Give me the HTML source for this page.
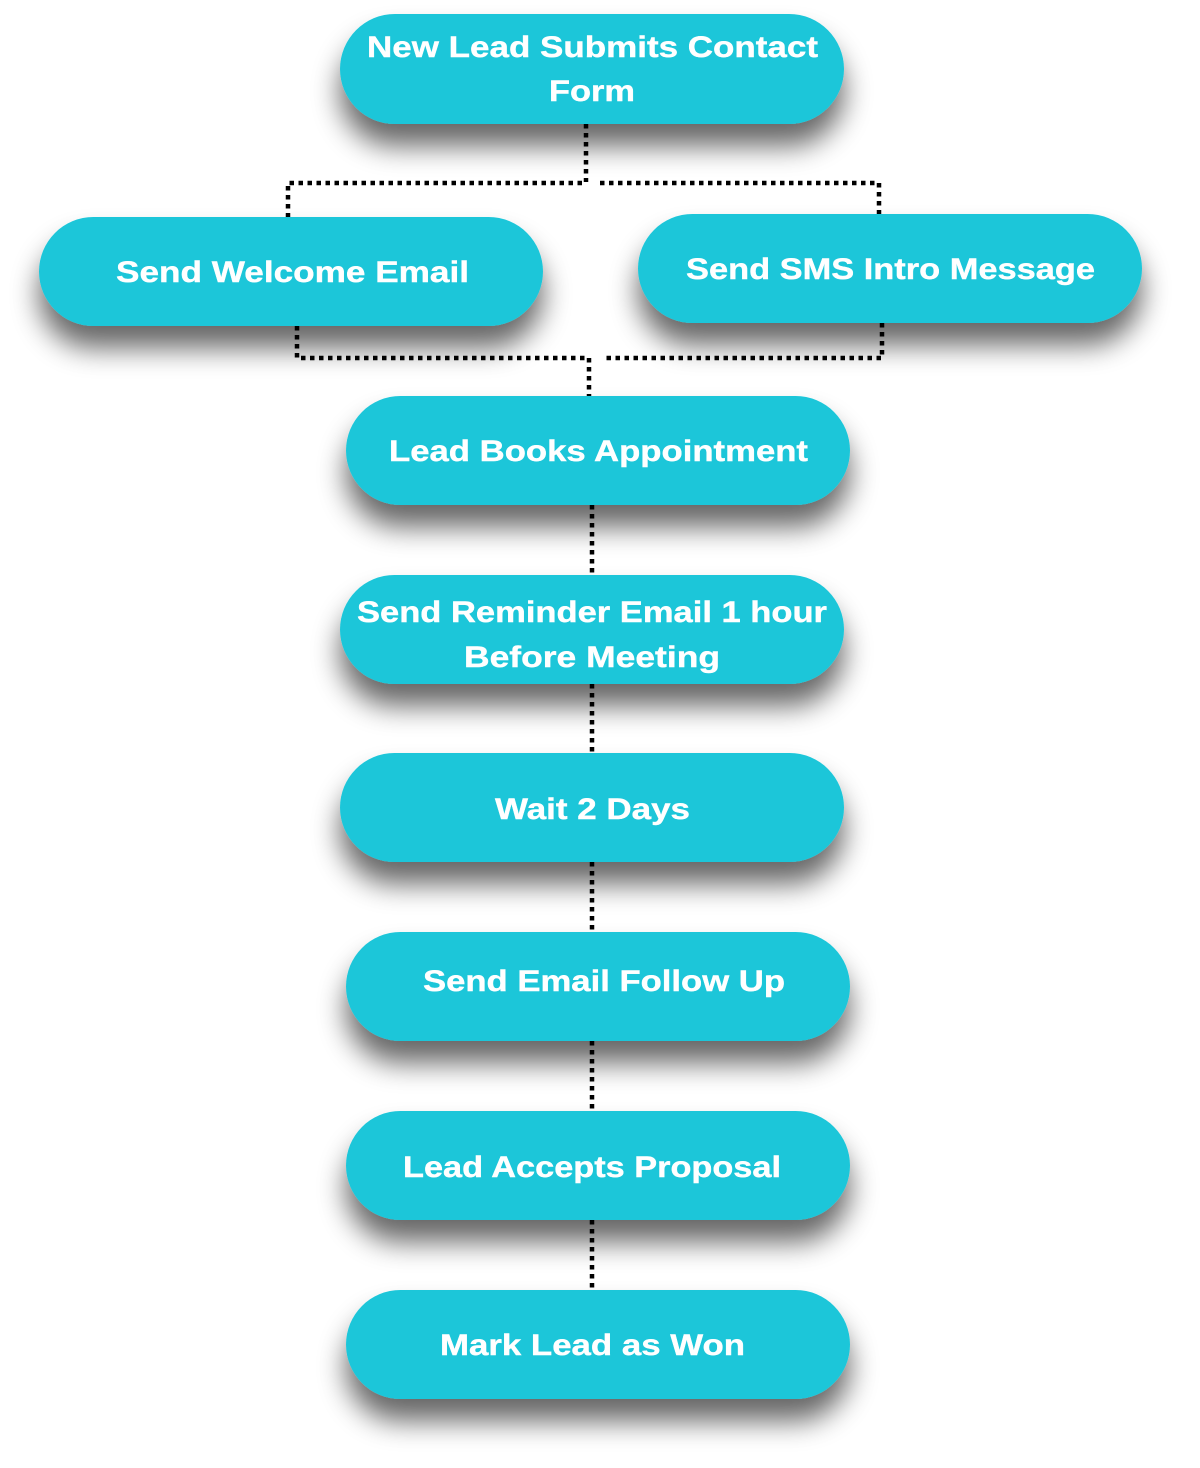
<!DOCTYPE html>
<html><head><meta charset="utf-8"><style>
html,body{margin:0;padding:0;background:#fff;}
svg{display:block;}
text{font-family:"Liberation Sans",sans-serif;font-weight:bold;font-size:30px;fill:#fff;stroke:#fff;stroke-width:0.4px;}
</style></head><body>
<svg width="1200" height="1468" viewBox="0 0 1200 1468" xmlns="http://www.w3.org/2000/svg">
<defs>
<filter id="sh" x="-20%" y="-40%" width="140%" height="200%">
<feGaussianBlur in="SourceAlpha" stdDeviation="14"/>
<feOffset dx="0" dy="22" result="b"/>
<feComponentTransfer><feFuncA type="linear" slope="0.6"/></feComponentTransfer>
<feMerge><feMergeNode/><feMergeNode in="SourceGraphic"/></feMerge>
</filter>
</defs>
<g fill="none" stroke="#000" stroke-width="4.5" stroke-dasharray="4.5 4.5">
<path d="M586 124 V182"/>
<path d="M582 183 H288 V217"/>
<path d="M600 183 H879 V214"/>
<path d="M297 326 V358 H588"/>
<path d="M882 323 V358 H604"/>
<path d="M589 358 V396"/>
<path d="M592 505 V575"/>
<path d="M592 684 V753"/>
<path d="M592 862 V932"/>
<path d="M592 1041 V1111"/>
<path d="M592 1220 V1290"/>
</g>
<g fill="#1cc6d9" filter="url(#sh)">
<rect x="340" y="14" width="504" height="110" rx="55"/>
<rect x="39" y="217" width="504" height="109" rx="54.5"/>
<rect x="638" y="214" width="504" height="109" rx="54.5"/>
<rect x="346" y="396" width="504" height="109" rx="54.5"/>
<rect x="340" y="575" width="504" height="109" rx="54.5"/>
<rect x="340" y="753" width="504" height="109" rx="54.5"/>
<rect x="346" y="932" width="504" height="109" rx="54.5"/>
<rect x="346" y="1111" width="504" height="109" rx="54.5"/>
<rect x="346" y="1290" width="504" height="109" rx="54.5"/>
</g>
<g>
<text x="367" y="57" textLength="451" lengthAdjust="spacingAndGlyphs">New Lead Submits Contact</text>
<text x="549" y="101" textLength="86" lengthAdjust="spacingAndGlyphs">Form</text>
<text x="116" y="282" textLength="353" lengthAdjust="spacingAndGlyphs">Send Welcome Email</text>
<text x="686" y="279" textLength="409" lengthAdjust="spacingAndGlyphs">Send SMS Intro Message</text>
<text x="389" y="461" textLength="419" lengthAdjust="spacingAndGlyphs">Lead Books Appointment</text>
<text x="357" y="622" textLength="470" lengthAdjust="spacingAndGlyphs">Send Reminder Email 1 hour</text>
<text x="464" y="667" textLength="256" lengthAdjust="spacingAndGlyphs">Before Meeting</text>
<text x="495" y="819" textLength="195" lengthAdjust="spacingAndGlyphs">Wait 2 Days</text>
<text x="423" y="991" textLength="362" lengthAdjust="spacingAndGlyphs">Send Email Follow Up</text>
<text x="403" y="1177" textLength="378" lengthAdjust="spacingAndGlyphs">Lead Accepts Proposal</text>
<text x="440" y="1355" textLength="305" lengthAdjust="spacingAndGlyphs">Mark Lead as Won</text>
</g>
</svg>
</body></html>
